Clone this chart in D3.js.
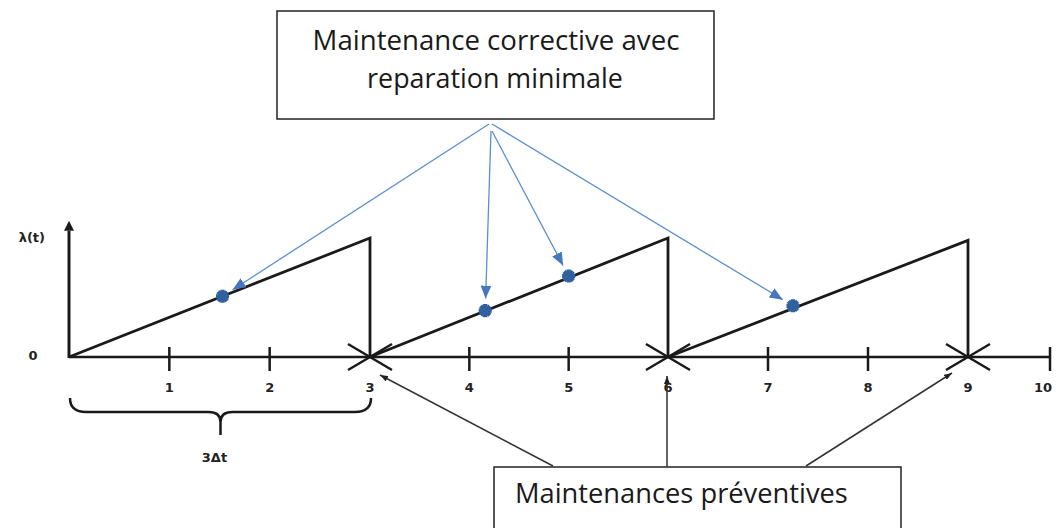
<!DOCTYPE html>
<html>
<head>
    <meta charset="utf-8">
    <title>Maintenance preventive et corrective</title>
    <script src="https://d3js.org/d3.v7.min.js"></script>
    <style>
        body { margin: 0; background: #fff; }
        svg { display: block; }
    </style>
</head>
<body>
    <svg id="chart" width="1064" height="528"></svg>

    <script>
      // axis ticks and labels
      var tickLabels = [1, 2, 3, 4, 5, 6, 7, 8, 9, 10];
      var tickMarks = [1, 2, 4, 5, 7, 8, 10];
      // preventive maintenance instants (renewal of lambda)
      var cycleStarts = [0, 3, 6];
      var cycleEnds = [3, 6, 9];
      var cyclePeaks = [1, 1, 0.98];
      var preventive = [3, 6, 9];
      // minimal repairs (corrective maintenance)
      var failureT = [1.53, 4.16, 5.0, 7.25];
      var failureL = [0.51, 0.39, 0.68, 0.43];

      var topLines = ["Maintenance corrective avec", "reparation minimale"];
      var bottomLabel = "Maintenances préventives";

      const svg = d3.select("#chart");

      // the drawing is not evenly spaced, so piecewise scale
      const x = d3.scaleLinear().domain([0, 3, 6, 9, 10]).range([69, 370, 668, 968, 1050]);
      const y = d3.scaleLinear().domain([0, 1]).range([357, 238]);

      const defs = svg.append("defs");
      defs.append("marker")
          .attr("id", "blueHead")
          .attr("viewBox", "0 0 12 10")
          .attr("refX", 12).attr("refY", 5)
          .attr("markerUnits", "userSpaceOnUse")
          .attr("markerWidth", 13).attr("markerHeight", 11)
          .attr("orient", "auto")
          .append("path").attr("d", "M0,0 L12,5 L0,10 Z").attr("fill", "#4677be");
      defs.append("marker")
          .attr("id", "blackHead")
          .attr("viewBox", "0 0 8 6")
          .attr("refX", 8).attr("refY", 3)
          .attr("markerUnits", "userSpaceOnUse")
          .attr("markerWidth", 8).attr("markerHeight", 6)
          .attr("orient", "auto")
          .append("path").attr("d", "M0,0 L8,3 L0,6 Z").attr("fill", "#222");

      // axes
      svg.append("line")
          .attr("x1", x(0)).attr("y1", y(0)).attr("x2", x(10)).attr("y2", y(0))
          .attr("stroke", "#1a1a1a").attr("stroke-width", 2.5);
      svg.append("line")
          .attr("x1", x(0)).attr("y1", y(0) + 1).attr("x2", x(0)).attr("y2", y(1.06))
          .attr("stroke", "#1a1a1a").attr("stroke-width", 3);
      svg.append("path")
          .attr("d", d3.line()([[x(0) - 5, y(1.06)], [x(0), y(1.06) - 10], [x(0) + 5, y(1.06)]]) + "Z")
          .attr("fill", "#1a1a1a");

      svg.selectAll(".tick")
          .data(tickMarks)
          .enter()
          .append("line")
          .attr("x1", d => x(d)).attr("x2", d => x(d))
          .attr("y1", y(0) - 10).attr("y2", y(0) + 14)
          .attr("stroke", "#1a1a1a").attr("stroke-width", 2.5);

      svg.selectAll(".tlabel")
          .data(tickLabels)
          .enter()
          .append("text")
          .attr("x", d => x(d) + (d == 10 ? -7 : 0))
          .attr("y", 392)
          .attr("text-anchor", "middle")
          .attr("font-family", "DejaVu Sans")
          .attr("font-weight", "bold")
          .attr("font-size", 13)
          .attr("fill", "#222")
          .text(d => d);

      svg.append("text").attr("x", 33).attr("y", 360).attr("text-anchor", "middle")
          .attr("font-family", "DejaVu Sans").attr("font-weight", "bold").attr("font-size", 13)
          .attr("fill", "#222").text("0");
      svg.append("text").attr("x", 45).attr("y", 242).attr("text-anchor", "end")
          .attr("font-family", "DejaVu Sans").attr("font-weight", "bold").attr("font-size", 13)
          .attr("fill", "#222").text("λ(t)");

      // sawtooth failure rate
      cycleStarts.forEach(function(s, i) {
          var e = cycleEnds[i];
          svg.append("path")
              .attr("d", d3.line()([[x(s), y(0)], [x(e), y(cyclePeaks[i])], [x(e), y(0)]]))
              .attr("fill", "none")
              .attr("stroke", "#1a1a1a")
              .attr("stroke-width", 2.8)
              .attr("stroke-linejoin", "miter");
      });

      // preventive maintenance crosses
      svg.selectAll(".cross")
          .data(preventive)
          .enter()
          .append("path")
          .attr("d", d => {
              var cx = x(d), cy = y(0);
              return "M" + (cx - 22) + "," + (cy - 13) + "L" + (cx + 22) + "," + (cy + 13) +
                     "M" + (cx - 22) + "," + (cy + 13) + "L" + (cx + 22) + "," + (cy - 13);
          })
          .attr("stroke", "#1a1a1a").attr("stroke-width", 2.5);

      // brace under first period
      var bx0 = x(0) + 1, bx1 = x(3) + 1, bm = (bx0 + bx1) / 2, by = 398;
      svg.append("path")
          .attr("d", "M" + bx0 + "," + by + " Q" + bx0 + "," + (by + 14) + " " + (bx0 + 16) + "," + (by + 14) +
                     " L" + (bm - 12) + "," + (by + 14) + " Q" + bm + "," + (by + 14) + " " + bm + "," + (by + 24) +
                     " Q" + bm + "," + (by + 14) + " " + (bm + 12) + "," + (by + 14) +
                     " L" + (bx1 - 16) + "," + (by + 14) + " Q" + bx1 + "," + (by + 14) + " " + bx1 + "," + by +
                     " M" + bm + "," + (by + 20) + " L" + bm + "," + (by + 37))
          .attr("fill", "none").attr("stroke", "#1a1a1a").attr("stroke-width", 2.5);
      svg.append("text").attr("x", bm - 6).attr("y", 462).attr("text-anchor", "middle")
          .attr("font-family", "DejaVu Sans").attr("font-weight", "bold").attr("font-size", 13)
          .attr("fill", "#222").text("3Δt");

      // top callout box
      svg.append("rect").attr("x", 277).attr("y", 11).attr("width", 437).attr("height", 108)
          .attr("fill", "#fff").attr("stroke", "#222").attr("stroke-width", 1.5);
      var topTargets = [[496, 50, 367], [495, 88, 256]];
      topLines.forEach(function(t, i) {
          var el = svg.append("text")
              .attr("x", topTargets[i][0]).attr("y", topTargets[i][1])
              .attr("text-anchor", "middle")
              .attr("font-family", "Open Sans").attr("font-size", 22)
              .attr("fill", "#1a1a1a").text(t);
          var w = el.node().getComputedTextLength();
          el.attr("font-size", 22 * topTargets[i][2] / w);
      });

      // blue arrows to minimal repairs
      var origins = [[489, 124], [491, 131], [492, 131], [492, 124]];
      failureT.forEach(function(t, i) {
          var mx = x(t), my = y(failureL[i]);
          var ox = origins[i][0], oy = origins[i][1];
          var dx = mx - ox, dy = my - oy, len = Math.sqrt(dx * dx + dy * dy);
          svg.append("line")
              .attr("x1", ox).attr("y1", oy)
              .attr("x2", mx - dx / len * 12).attr("y2", my - dy / len * 12)
              .attr("stroke", "#5b8fd0").attr("stroke-width", 1.3)
              .attr("marker-end", "url(#blueHead)");
      });

      // failure markers (8-point bursts)
      var burst = d3.symbol().type(d3.symbolCross).size(95);
      svg.selectAll(".fail")
          .data(failureT)
          .enter()
          .append("g")
          .attr("transform", (d, i) => "translate(" + x(d) + "," + y(failureL[i]) + ")")
          .each(function() {
              d3.select(this).append("path").attr("d", burst()).attr("fill", "#31609e");
              d3.select(this).append("path").attr("d", burst()).attr("fill", "#31609e")
                  .attr("transform", "rotate(45)");
          });

      // bottom callout box
      svg.append("rect").attr("x", 494).attr("y", 467).attr("width", 407).attr("height", 80)
          .attr("fill", "#fff").attr("stroke", "#222").attr("stroke-width", 1.5);
      var bt = svg.append("text").attr("x", 515).attr("y", 503)
          .attr("font-family", "Open Sans").attr("font-size", 22)
          .attr("fill", "#1a1a1a").text(bottomLabel);
      bt.attr("font-size", 22 * 333 / bt.node().getComputedTextLength());

      // black arrows to preventive maintenances
      var pStarts = [[553, 466], [667, 467], [806, 466]];
      var pEnds = [[x(3) + 10, y(0) + 18], [x(6) - 1, y(0) + 19], [x(9) - 16, y(0) + 16]];
      pStarts.forEach(function(s, i) {
          svg.append("line")
              .attr("x1", s[0]).attr("y1", s[1])
              .attr("x2", pEnds[i][0]).attr("y2", pEnds[i][1])
              .attr("stroke", "#333").attr("stroke-width", 1.5)
              .attr("marker-end", "url(#blackHead)");
      });
    </script>
</body>
</html>
